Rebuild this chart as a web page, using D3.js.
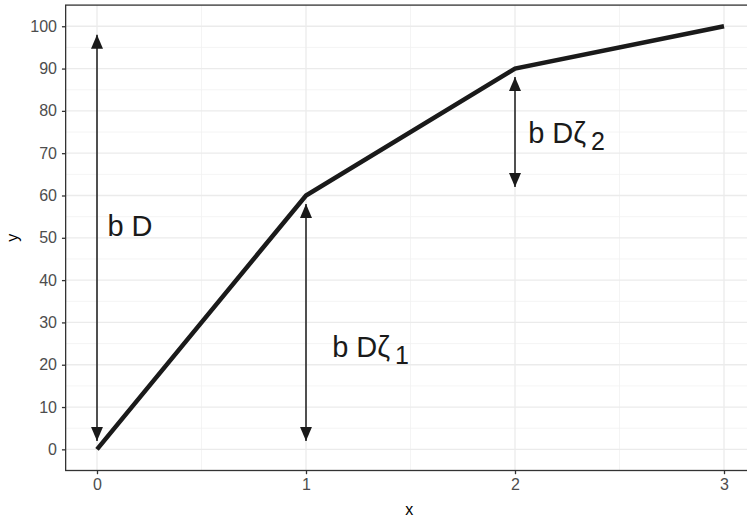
<!DOCTYPE html>
<html>
<head>
<meta charset="utf-8">
<script src="https://cdn.jsdelivr.net/npm/d3@7/dist/d3.min.js"></script>
<style>
  html, body { margin: 0; padding: 0; background: #fff; }
  svg { display: block; font-family: "Liberation Sans", Arial, sans-serif; }
</style>
</head>
<body>
<svg id="chart" width="747" height="520"></svg>
<script>
// Piecewise linear curve
const xs = [0, 1, 2, 3];
const ys = [0, 60, 90, 100];

// Double-headed arrows: x, y from, y to
const arrowX = [0, 1, 2];
const arrowY0 = [2, 2, 62];
const arrowY1 = [98, 58, 88];

// Annotation labels: position, main text, subscript
const labelX = [0.05, 1.125, 2.063];
const labelY = [50.5, 21.8, 72.3];
const labelMain = ["b D", "b Dζ", "b Dζ"];
const labelSub = ["", "1", "2"];

const xTicks = [0, 1, 2, 3];
const yTicks = [0, 10, 20, 30, 40, 50, 60, 70, 80, 90, 100];

const svg = d3.select("#chart");

// Scales with 5% expansion
const x = d3.scaleLinear().domain([-0.15, 3.15]).range([65.65, 755.35]);
const y = d3.scaleLinear().domain([-5, 105]).range([470.5, 5.1]);

const panel = { left: x(-0.15), right: x(3.15), top: y(105), bottom: y(-5) };

// Gridlines
const minorX = [0.5, 1.5, 2.5];
const minorY = d3.range(5, 100, 10);
const g = svg.append("g");
g.selectAll(".mnx").data(minorX).join("line")
  .attr("x1", d => x(d)).attr("x2", d => x(d))
  .attr("y1", panel.top).attr("y2", panel.bottom)
  .attr("stroke", "#f1f1f1").attr("stroke-width", 0.8);
g.selectAll(".mny").data(minorY).join("line")
  .attr("y1", d => y(d)).attr("y2", d => y(d))
  .attr("x1", panel.left).attr("x2", panel.right)
  .attr("stroke", "#f1f1f1").attr("stroke-width", 0.8);
g.selectAll(".mjx").data(xTicks).join("line")
  .attr("x1", d => x(d)).attr("x2", d => x(d))
  .attr("y1", panel.top).attr("y2", panel.bottom)
  .attr("stroke", "#ebebeb").attr("stroke-width", 1.3);
g.selectAll(".mjy").data(yTicks).join("line")
  .attr("y1", d => y(d)).attr("y2", d => y(d))
  .attr("x1", panel.left).attr("x2", panel.right)
  .attr("stroke", "#ebebeb").attr("stroke-width", 1.3);

// Curve
const pts = xs.map((v, i) => [v, ys[i]]);
svg.append("path")
  .attr("d", d3.line().x(d => x(d[0])).y(d => y(d[1]))(pts))
  .attr("fill", "none").attr("stroke", "#1a1a1a")
  .attr("stroke-width", 4.5).attr("stroke-linejoin", "miter");

// Arrow heads
const defs = svg.append("defs");
defs.append("marker").attr("id", "head")
  .attr("viewBox", "0 0 14 12").attr("refX", 14).attr("refY", 6)
  .attr("markerWidth", 14).attr("markerHeight", 12)
  .attr("markerUnits", "userSpaceOnUse").attr("orient", "auto-start-reverse")
  .append("path").attr("d", "M0,0 L14,6 L0,12 Z").attr("fill", "#1a1a1a");

svg.selectAll(".arr").data(arrowX).join("line")
  .attr("x1", d => x(d)).attr("x2", d => x(d))
  .attr("y1", (d, i) => y(arrowY0[i])).attr("y2", (d, i) => y(arrowY1[i]))
  .attr("stroke", "#1a1a1a").attr("stroke-width", 1.5)
  .attr("marker-start", "url(#head)").attr("marker-end", "url(#head)");

// Labels
labelMain.forEach((t, i) => {
  const txt = svg.append("text")
    .attr("x", x(labelX[i])).attr("y", y(labelY[i]))
    .attr("font-size", 29).attr("fill", "#1a1a1a")
    .attr("xml:space", "preserve");
  txt.append("tspan").text(t);
  if (labelSub[i]) {
    txt.append("tspan").attr("dx", 5).attr("dy", 7)
      .attr("font-size", 25).text(labelSub[i]);
  }
});

// Panel border
svg.append("rect")
  .attr("x", panel.left).attr("y", panel.top)
  .attr("width", panel.right - panel.left).attr("height", panel.bottom - panel.top)
  .attr("fill", "none").attr("stroke", "#333333").attr("stroke-width", 1.3);

// Axes
const xAxis = svg.append("g").attr("transform", `translate(0,${panel.bottom})`)
  .call(d3.axisBottom(x).tickValues(xTicks).tickSize(3.7).tickPadding(4).tickFormat(d3.format("d")));
const yAxis = svg.append("g").attr("transform", `translate(${panel.left},0)`)
  .call(d3.axisLeft(y).tickValues(yTicks).tickSize(3.7).tickPadding(5).tickFormat(d3.format("d")));
[xAxis, yAxis].forEach(a => {
  a.select(".domain").remove();
  a.selectAll(".tick line").attr("stroke", "#333333").attr("stroke-width", 1.3);
  a.selectAll(".tick text").attr("fill", "#4d4d4d").attr("font-size", 16)
    .attr("font-family", "Liberation Sans, Arial, sans-serif");
});

// Axis titles
svg.append("text").attr("x", (panel.left + 747) / 2 + 3).attr("y", 515)
  .attr("text-anchor", "middle").attr("font-size", 16).attr("fill", "#000").text("x");
svg.append("text").attr("transform", `translate(18,${(panel.top + panel.bottom) / 2}) rotate(-90)`)
  .attr("text-anchor", "middle").attr("font-size", 16).attr("fill", "#000").text("y");
</script>
</body>
</html>
